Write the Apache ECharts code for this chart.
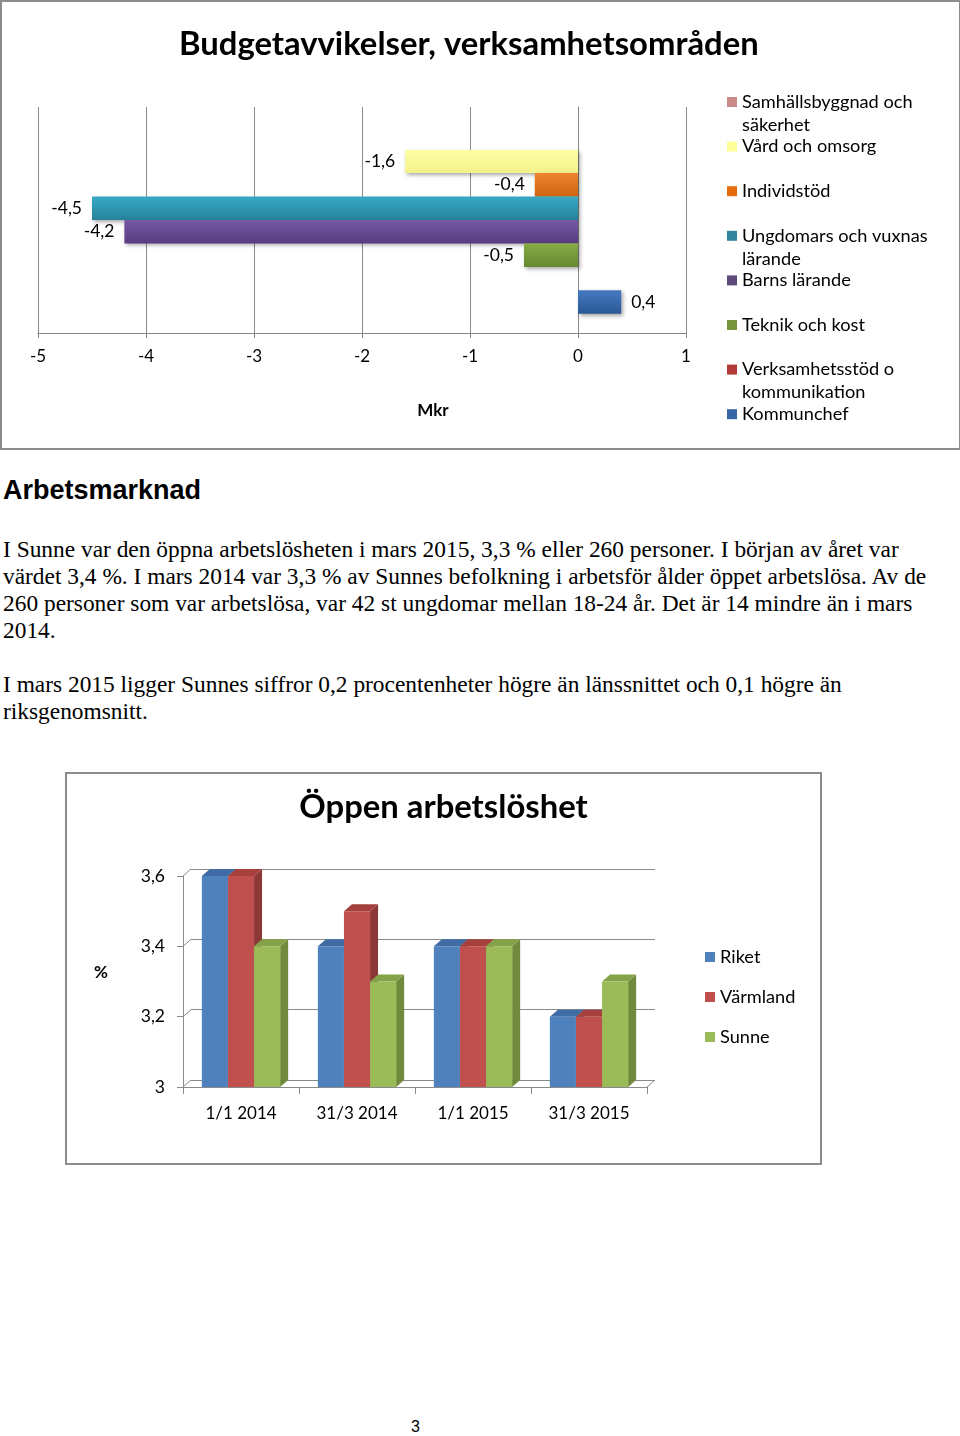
<!DOCTYPE html>
<html>
<head>
<meta charset="utf-8">
<script src="https://cdn.jsdelivr.net/npm/echarts@6/dist/echarts.min.js"></script>
<style>
  html, body { margin: 0; padding: 0; background: #fff; }
  body { width: 960px; height: 1436px; position: relative; overflow: hidden; }
  #box1 { position: absolute; left: 0px; top: 0px; width: 957px; height: 446px; border: 2px solid #8c8c8c; }
  #c1 { position: absolute; left: 0; top: 0; width: 960px; height: 450px; }
  #box2 { position: absolute; left: 65px; top: 772px; width: 753px; height: 389px; border: 2px solid #8c8c8c; }
  #c2 { position: absolute; left: 66px; top: 773px; width: 755px; height: 391px; }
  .h { position: absolute; left: 3px; top: 472px; font: bold 27px "Liberation Sans", Arial, sans-serif; line-height: 36px; color: #000; }
  .p { position: absolute; left: 3px; font: 23.4px "Liberation Serif", "Times New Roman", serif; line-height: 27px; color: #000; white-space: nowrap; }
  .pg { position: absolute; left: 411px; top: 1417px; font: 16px "Liberation Sans", Arial, sans-serif; line-height: 20px; color: #000; }
</style>
</head>
<body>
<div id="box1"></div>
<div id="c1"></div>
<div class="h">Arbetsmarknad</div>
<div class="p" style="top:536px">I Sunne var den öppna arbetslösheten i mars 2015, 3,3 % eller 260 personer. I början av året var<br>värdet 3,4 %. I mars 2014 var 3,3 % av Sunnes befolkning i arbetsför ålder öppet arbetslösa. Av de<br>260 personer som var arbetslösa, var 42 st ungdomar mellan 18-24 år. Det är 14 mindre än i mars<br>2014.</div>
<div class="p" style="top:671px">I mars 2015 ligger Sunnes siffror 0,2 procentenheter högre än länssnittet och 0,1 högre än<br>riksgenomsnitt.</div>
<div id="box2"></div>
<div id="c2"></div>
<div class="pg">3</div>
<script>
// ---------- Data: chart 1 ----------
const budgetTitle = 'Budgetavvikelser, verksamhetsområden';
const budgetNames = ['Samhällsbyggnad och säkerhet', 'Vård och omsorg', 'Individstöd', 'Ungdomars och vuxnas lärande', 'Barns lärande', 'Teknik och kost', 'Verksamhetsstöd o kommunikation', 'Kommunchef'];
const budgetLegendText = ['Samhällsbyggnad och\nsäkerhet', 'Vård och omsorg', 'Individstöd', 'Ungdomars och vuxnas\nlärande', 'Barns lärande', 'Teknik och kost', 'Verksamhetsstöd o\nkommunikation', 'Kommunchef'];
const budgetValues = [null, -1.6, -0.4, -4.5, -4.2, -0.5, null, 0.4];
const budgetAxisName = 'Mkr';
const budgetMin = -5, budgetMax = 1, budgetInterval = 1;

// ---------- Data: chart 2 ----------
const unempTitle = 'Öppen arbetslöshet';
const unempDates = ['1/1 2014', '31/3 2014', '1/1 2015', '31/3 2015'];
const unempNames = ['Riket', 'Värmland', 'Sunne'];
const riket = [3.6, 3.4, 3.4, 3.2];
const varmland = [3.6, 3.5, 3.4, 3.2];
const sunne = [3.4, 3.3, 3.4, 3.3];
const unempTicks = [3, 3.2, 3.4, 3.6];
const unempAxisName = '%';

const fmt = v => String(+(+v).toFixed(1)).replace('.', ',');
const CAL = 'Lato, "Open Sans", sans-serif';

// ---------- Chart 1 ----------
const barColors = [
  ['#d9a09e', '#b87573'],
  ['#ffffa6', '#f2f28a'],
  ['#ec8430', '#cf6410'],
  ['#38a9c4', '#25829b'],
  ['#7558a6', '#583c80'],
  ['#86ab45', '#67892f'],
  ['#c04a47', '#962f2c'],
  ['#4479c0', '#2a5894']
];
const legendSwatch = ['#c98a88', '#ffff99', '#e46c0a', '#31859c', '#604a7b', '#77933c', '#b23b37', '#3765a8'];

const c1 = echarts.init(document.getElementById('c1'), null, { renderer: 'canvas' });
const firstLineCenters = budgetNames.map((n, i) => 102 + 44.6 * i);
c1.setOption({
  animation: false,
  title: {
    text: budgetTitle, left: 179, top: 28, padding: 0,
    textStyle: { fontFamily: CAL, fontWeight: 'bold', fontSize: 32.8, color: '#000' }
  },
  grid: { left: 38, top: 107, width: 648, height: 226, containLabel: false },
  xAxis: {
    type: 'value', min: budgetMin, max: budgetMax, interval: budgetInterval,
    axisLine: { show: true, onZero: false, lineStyle: { color: '#868686', width: 1 } },
    axisTick: { show: true, length: 5, lineStyle: { color: '#868686' } },
    splitLine: { show: true, lineStyle: { color: '#8a8a8a', width: 1 } },
    axisLabel: { formatter: v => fmt(v), fontFamily: CAL, fontSize: 17, color: '#000', margin: 15 },
    name: budgetAxisName, nameLocation: 'middle', nameGap: 69,
    nameTextStyle: { fontFamily: CAL, fontWeight: 'bold', fontSize: 17, color: '#000', padding: [0, 0, 0, 142] }
  },
  yAxis: {
    type: 'category', data: [''], inverse: true,
    axisLine: { show: true, onZero: true, lineStyle: { color: '#868686', width: 1 } },
    axisTick: { show: false }, axisLabel: { show: false }, splitLine: { show: false }
  },
  legend: budgetNames.map((name, i) => {
    const multi = budgetLegendText[i].indexOf('\n') >= 0;
    return {
      data: [{ name, itemStyle: { color: legendSwatch[i] } }],
      left: 727, top: firstLineCenters[i] - (multi ? 34.5 : 11.5),
      orient: 'vertical', padding: 0, itemWidth: 10, itemHeight: 10, icon: 'rect',
      selectedMode: false,
      formatter: () => (multi ? '\u00a0\n' : '') + budgetLegendText[i],
      textStyle: { fontFamily: CAL, fontSize: 18.2, lineHeight: 23, color: '#000' }
    };
  }),
  series: budgetNames.map((name, i) => ({
    type: 'bar', name, data: [budgetValues[i]],
    barGap: '0%', barCategoryGap: '17%',
    itemStyle: {
      color: new echarts.graphic.LinearGradient(0, 0, 0, 1, [
        { offset: 0, color: barColors[i][0] }, { offset: 1, color: barColors[i][1] }
      ]),
      shadowColor: 'rgba(0,0,0,0.35)', shadowBlur: 4, shadowOffsetX: 2, shadowOffsetY: 2
    },
    label: {
      show: budgetValues[i] !== null,
      position: (budgetValues[i] || 0) < 0 ? 'left' : 'right', distance: 10,
      formatter: p => fmt(p.value), fontFamily: CAL, fontSize: 17.5, color: '#000'
    }
  }))
});

// ---------- Chart 2 ----------
const colFront = ['#4f81bd', '#c0504d', '#9bbb59'];
const colTop = ['#3f6ca4', '#a5403d', '#84a348'];
const colSide = ['#385d8a', '#8c3836', '#6f8a3a'];
const DX = 8, DY = 7;
const unempData = [riket, varmland, sunne];

function render3D(si) {
  return function (params, api) {
    const ci = api.value(0), v = api.value(1);
    const pt = api.coord([ci, v]);
    const base = api.coord([ci, unempTicks[0]]);
    const band = api.size([1, 0])[0];
    const w = band * 0.225;
    const x = pt[0] - 1.5 * w + si * w;
    const yt = pt[1], yb = base[1];
    return {
      type: 'group',
      children: [
        { type: 'polygon', shape: { points: [[x + w, yt], [x + w + DX, yt - DY], [x + w + DX, yb - DY], [x + w, yb]] }, style: { fill: colSide[si] } },
        { type: 'polygon', shape: { points: [[x, yt], [x + DX, yt - DY], [x + w + DX, yt - DY], [x + w, yt]] }, style: { fill: colTop[si] } },
        { type: 'rect', shape: { x: x, y: yt, width: w, height: yb - yt }, style: { fill: colFront[si] } }
      ]
    };
  };
}

function renderWall(params, api) {
  const cs = params.coordSys;
  const v = api.value(0);
  const y = api.coord([0, v])[1];
  const kids = [{ type: 'line', shape: { x1: cs.x, y1: y, x2: cs.x + DX, y2: y - DY }, style: { stroke: '#8a8a8a', lineWidth: 1 } }];
  if (v === unempTicks[0]) {
    kids.push({ type: 'line', shape: { x1: cs.x + cs.width, y1: y, x2: cs.x + cs.width + DX, y2: y - DY }, style: { stroke: '#8a8a8a', lineWidth: 1 } });
  }
  return { type: 'group', children: kids };
}

const c2 = echarts.init(document.getElementById('c2'), null, { renderer: 'canvas' });
const gL = 117, gT = 103, gW = 464, gH = 211;
c2.setOption({
  animation: false,
  title: {
    text: unempTitle, left: 'center', top: 18, padding: 0,
    textStyle: { fontFamily: CAL, fontWeight: 'bold', fontSize: 32.8, color: '#000' }
  },
  grid: [
    { left: gL, top: gT, width: gW, height: gH },
    { left: gL + DX, top: gT - DY, width: gW, height: gH }
  ],
  xAxis: [
    {
      gridIndex: 0, type: 'category', data: unempDates,
      axisLine: { show: true, lineStyle: { color: '#8a8a8a' } },
      axisTick: { show: true, length: 7, lineStyle: { color: '#8a8a8a' } },
      axisLabel: { fontFamily: CAL, fontSize: 17, color: '#000', margin: 18 }
    },
    { gridIndex: 1, type: 'category', data: unempDates, show: false }
  ],
  yAxis: [
    {
      gridIndex: 0, type: 'value', min: unempTicks[0], max: unempTicks[unempTicks.length - 1], interval: 0.2,
      axisLine: { show: true, lineStyle: { color: '#8a8a8a' } },
      axisTick: { show: true, length: 6, lineStyle: { color: '#8a8a8a' } },
      splitLine: { show: false },
      axisLabel: { formatter: v => fmt(v), fontFamily: CAL, fontSize: 17.5, color: '#000', margin: 18 },
      name: unempAxisName, nameLocation: 'middle', nameRotate: 0, nameGap: 75,
      nameTextStyle: { fontFamily: CAL, fontWeight: 'bold', fontSize: 17, color: '#000', verticalAlign: 'bottom' }
    },
    {
      gridIndex: 1, type: 'value', min: unempTicks[0], max: unempTicks[unempTicks.length - 1], interval: 0.2,
      axisLine: { show: false }, axisTick: { show: false }, axisLabel: { show: false },
      splitLine: { show: true, lineStyle: { color: '#8a8a8a', width: 1 } }
    }
  ],
  legend: {
    data: unempNames, orient: 'vertical', left: 639, top: 174, padding: 0,
    itemWidth: 10, itemHeight: 10, itemGap: 20, icon: 'rect', selectedMode: false,
    textStyle: { fontFamily: CAL, fontSize: 18.2, lineHeight: 20, color: '#000' }
  },
  series: [
    {
      type: 'custom', name: 'wall', xAxisIndex: 0, yAxisIndex: 0, silent: true,
      data: unempTicks.map(v => [v]), encode: { y: 0 }, renderItem: renderWall, z: 1
    }
  ].concat(unempNames.map((name, si) => ({
    type: 'custom', name, xAxisIndex: 0, yAxisIndex: 0,
    itemStyle: { color: colFront[si] },
    data: unempData[si].map((v, i) => [i, v]),
    encode: { x: 0, y: 1 },
    renderItem: render3D(si), z: 2
  })))
});
</script>
</body>
</html>
